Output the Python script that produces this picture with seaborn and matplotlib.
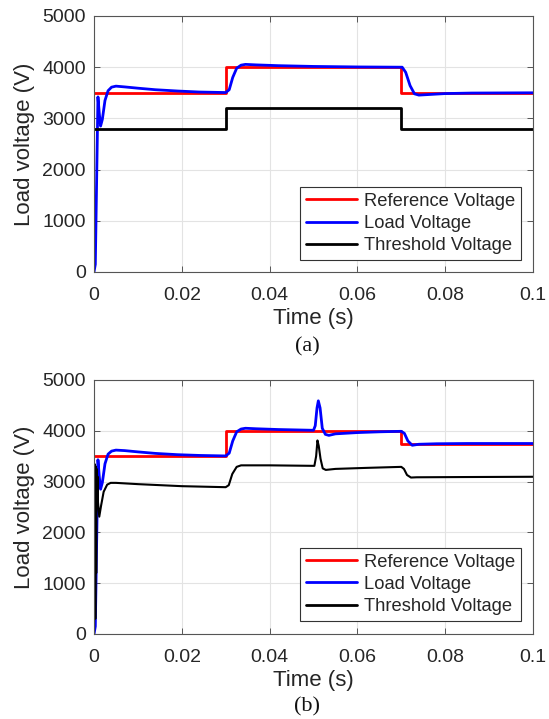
import numpy as np
import pandas as pd
import matplotlib
matplotlib.use("Agg")
import matplotlib.pyplot as plt
import seaborn as sns

# ---------------- data ----------------
# Panel (a)
a_ref_t = [0, 0.030, 0.030, 0.070, 0.070, 0.1]
a_ref_v = [3500, 3500, 4000, 4000, 3500, 3500]

a_load_t = [0, 0.0003, 0.0009, 0.0012, 0.0015, 0.0019, 0.0025, 0.0032, 0.0040,
            0.0050, 0.0070, 0.010, 0.014, 0.019, 0.024, 0.0300, 0.0308, 0.0316,
            0.0325, 0.0335, 0.0345, 0.037, 0.042, 0.050, 0.060, 0.0702, 0.0710,
            0.0720, 0.0730, 0.0740, 0.0760, 0.080, 0.086, 0.1]
a_load_v = [0, 150, 3420, 3100, 2850, 2980, 3350, 3540, 3610,
            3630, 3615, 3590, 3560, 3535, 3515, 3505, 3560, 3800,
            3980, 4040, 4055, 4045, 4030, 4015, 4005, 4000, 3900,
            3640, 3480, 3455, 3465, 3485, 3495, 3500]

a_thr_t = [0, 0.030, 0.030, 0.070, 0.070, 0.1]
a_thr_v = [2800, 2800, 3200, 3200, 2800, 2800]

# Panel (b)
b_ref_t = [0, 0.030, 0.030, 0.070, 0.070, 0.1]
b_ref_v = [3500, 3500, 4000, 4000, 3750, 3750]

b_load_t = [0, 0.0003, 0.0009, 0.0012, 0.0015, 0.0019, 0.0025, 0.0032, 0.0040,
            0.0050, 0.0070, 0.010, 0.014, 0.019, 0.024, 0.0300, 0.0308, 0.0316,
            0.0325, 0.0335, 0.0345, 0.037, 0.042, 0.0500, 0.0504, 0.0508,
            0.0511, 0.0515, 0.0520, 0.0527, 0.0535, 0.0550, 0.060, 0.065,
            0.0700, 0.0707, 0.0715, 0.0725, 0.0740, 0.078, 0.085, 0.1]
b_load_v = [0, 150, 3430, 3100, 2850, 2980, 3350, 3540, 3600,
            3620, 3610, 3585, 3555, 3530, 3515, 3505, 3560, 3800,
            3980, 4035, 4050, 4040, 4025, 4010, 4100, 4450,
            4590, 4450, 4050, 3930, 3910, 3940, 3965, 3980,
            3990, 3950, 3800, 3715, 3735, 3745, 3750, 3750]

b_thr_t = [0, 0.0002, 0.0003, 0.0004, 0.0005, 0.0006, 0.0007, 0.0008, 0.0009,
           0.0012, 0.0016, 0.0022, 0.0030, 0.0038, 0.0050, 0.010, 0.020, 0.0300,
           0.0307, 0.0315, 0.0325, 0.0335, 0.040, 0.0502, 0.0506, 0.0509,
           0.0512, 0.0516, 0.0521, 0.0528, 0.055, 0.062, 0.0700, 0.0706,
           0.0713, 0.0722, 0.0735, 0.085, 0.1]
b_thr_v = [0, 3340, 300, 3300, 1200, 3250, 2500, 3100, 2600,
           2310, 2520, 2800, 2940, 2975, 2975, 2950, 2910, 2890,
           2930, 3150, 3290, 3320, 3320, 3310, 3500, 3810,
           3700, 3450, 3260, 3230, 3250, 3270, 3290, 3250,
           3130, 3080, 3085, 3090, 3095]

x_ticks = [0, 0.02, 0.04, 0.06, 0.08, 0.1]
x_tick_labels = ["0", "0.02", "0.04", "0.06", "0.08", "0.1"]
y_ticks = [0, 1000, 2000, 3000, 4000, 5000]
y_tick_labels = ["0", "1000", "2000", "3000", "4000", "5000"]
series_names = ["Reference Voltage", "Load Voltage", "Threshold Voltage"]
captions = ["(a)", "(b)"]

# ---------------- styling ----------------
sns.set_theme(style="ticks")
plt.rcParams["font.family"] = ["Liberation Sans", "DejaVu Sans"]

W, H = 549, 719
fig = plt.figure(figsize=(W / 100, H / 100), dpi=100)

def px_axes(x0, y0, x1, y1):
    return fig.add_axes([x0 / W, 1 - y1 / H, (x1 - x0) / W, (y1 - y0) / H])

panels = [
    dict(box=(94, 16, 533, 272), ref=(a_ref_t, a_ref_v), load=(a_load_t, a_load_v),
         thr=(a_thr_t, a_thr_v), thr_lw=2.0, cap_y=347, leg=(0.972, 0.047)),
    dict(box=(94, 380, 533, 634), ref=(b_ref_t, b_ref_v), load=(b_load_t, b_load_v),
         thr=(b_thr_t, b_thr_v), thr_lw=1.5, cap_y=707, leg=(0.972, 0.052)),
]

colors = ["#ff0000", "#0000ff", "#000000"]
text_color = "#262626"

for i, p in enumerate(panels):
    ax = px_axes(*p["box"])
    for name, (t, v), c, lw in zip(series_names, [p["ref"], p["load"], p["thr"]],
                                   colors, [2.0, 2.0, p["thr_lw"]]):
        df = pd.DataFrame({"t": t, "v": v})
        sns.lineplot(data=df, x="t", y="v", ax=ax, color=c, lw=lw,
                     estimator=None, sort=False, label=name)
    ax.set_xlim(0, 0.1)
    ax.set_ylim(0, 5000)
    ax.set_xticks(x_ticks)
    ax.set_xticklabels(x_tick_labels)
    ax.set_yticks(y_ticks)
    ax.set_yticklabels(y_tick_labels)
    ax.grid(True, color="#e3e3e3", lw=0.8)
    ax.set_axisbelow(True)
    ax.tick_params(direction="in", length=4, width=0.7, top=True, right=True,
                   labelsize=14, colors="#555555", labelcolor=text_color)
    ax.tick_params(axis="y", pad=6)
    ax.tick_params(axis="x", pad=10.5)
    for s in ax.spines.values():
        s.set_color("#555555")
        s.set_linewidth(0.8)
    ax.set_xlabel("Time (s)", fontsize=16, color=text_color, labelpad=3.5)
    ax.set_ylabel("Load voltage (V)", fontsize=16, color=text_color, labelpad=5)
    leg = ax.legend(loc="lower right", bbox_to_anchor=p["leg"], borderaxespad=0,
                    fontsize=13.2, handlelength=2.8, handletextpad=0.35,
                    labelspacing=0.28, borderpad=0.32, fancybox=False, framealpha=1)
    leg.get_frame().set_edgecolor("#333333")
    leg.get_frame().set_linewidth(0.8)
    for line in leg.get_lines():
        line.set_linewidth(2.0)
    fig.text(307 / W, 1 - p["cap_y"] / H, captions[i], ha="center", va="center",
             fontsize=16, family=["Liberation Serif", "DejaVu Serif"], color="#111111")

fig.savefig("out.png", dpi=100)
